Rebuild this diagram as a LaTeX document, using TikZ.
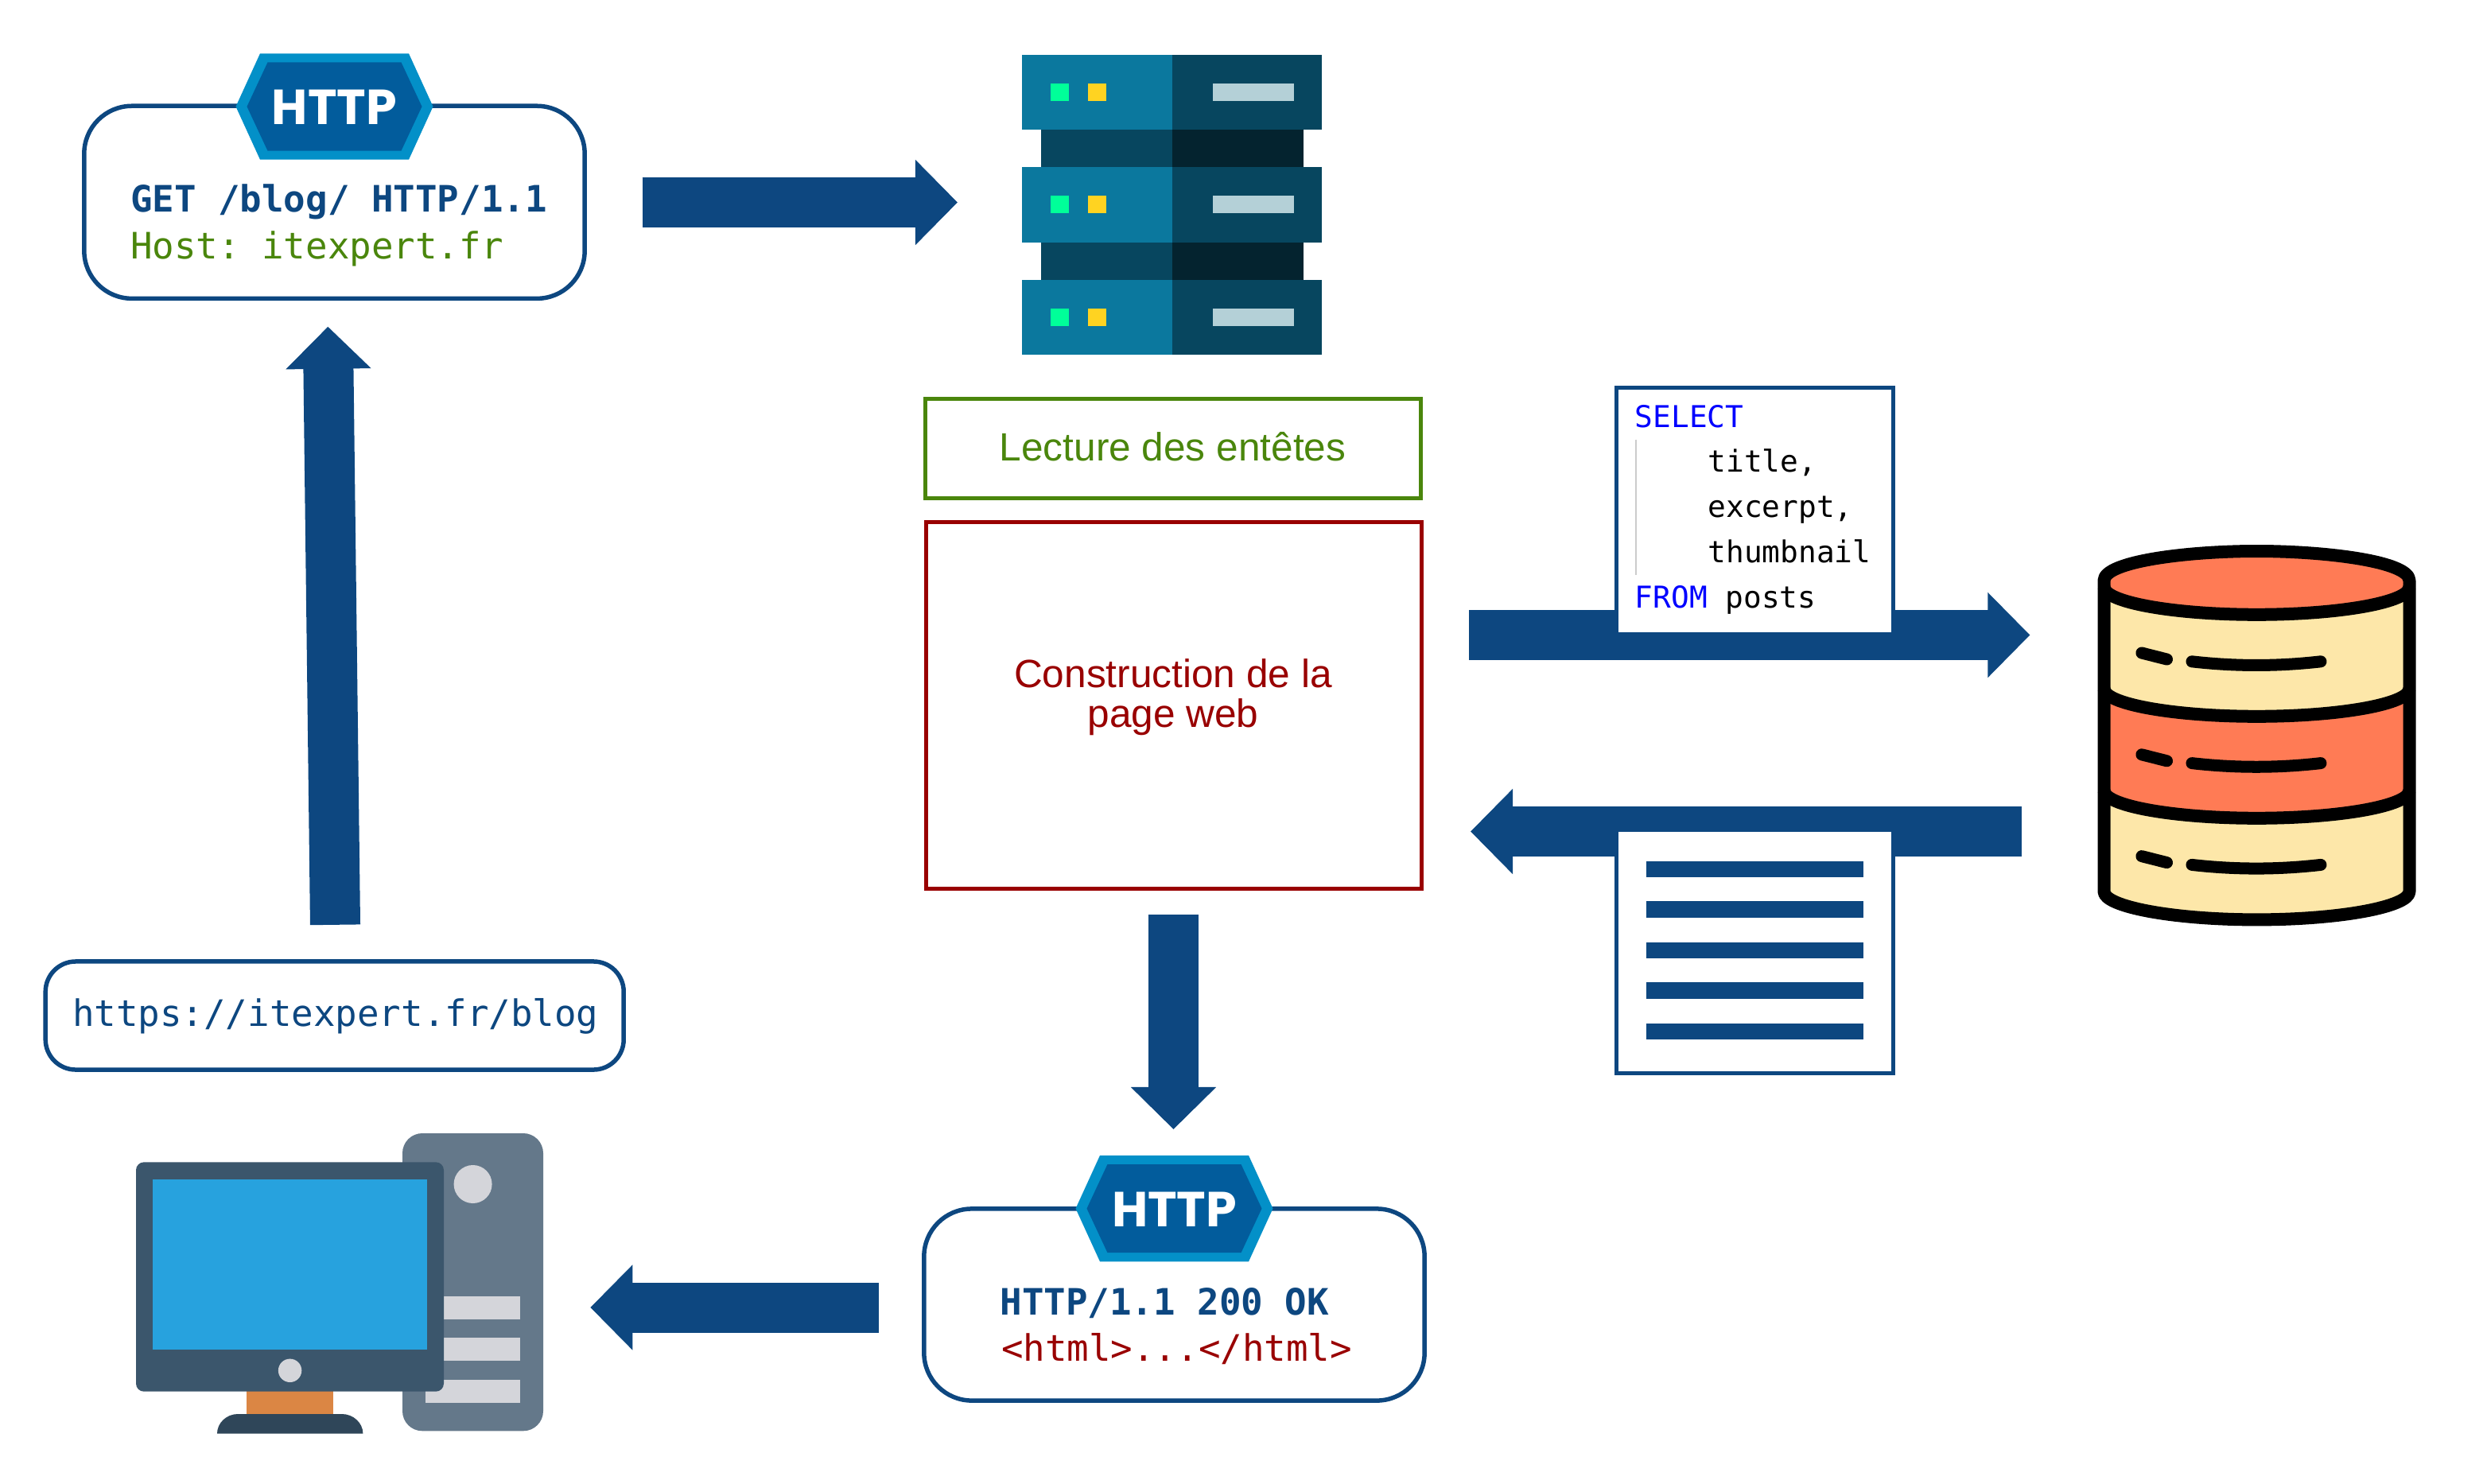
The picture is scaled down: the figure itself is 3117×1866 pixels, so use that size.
\documentclass[tikz,border=0pt]{standalone}
\usepackage{fontspec}
\setmainfont{Liberation Sans}
\setmonofont{DejaVu Sans Mono}
\newfontfamily\badgefont{Poppins}
\usetikzlibrary{arrows.meta}
\definecolor{flowblue}{HTML}{0D4780}
\definecolor{hexouter}{HTML}{0390C8}
\definecolor{hexinner}{HTML}{025C9C}
\definecolor{okgreen}{HTML}{4A860C}
\definecolor{darkred}{HTML}{990000}
\definecolor{srvlight}{HTML}{0B789E}
\definecolor{srvdark}{HTML}{07465F}
\definecolor{srvblack}{HTML}{04232F}
\definecolor{srvgreen}{HTML}{00FF99}
\definecolor{srvyellow}{HTML}{FFD321}
\definecolor{srvbar}{HTML}{B4D0D7}
\definecolor{dborange}{HTML}{FF7B55}
\definecolor{dbcream}{HTML}{FDE7A9}
\definecolor{pctower}{HTML}{64788A}
\definecolor{pcgrey}{HTML}{D4D5DA}
\definecolor{pcmonitor}{HTML}{3B566C}
\definecolor{pcscreen}{HTML}{27A2DE}
\definecolor{pcstand}{HTML}{DB8644}
\definecolor{pcbase}{HTML}{2F4659}
\tikzset{
  flow/.style={draw=flowblue,line width=.63cm,-{Triangle[length=.53cm,width=1.04cm]}},
  roundbox/.style={draw=flowblue,fill=white,line width=.055cm,rounded corners=.6cm,inner sep=0,outer sep=0},
  flatbox/.style={fill=white,line width=.05cm,inner sep=0,outer sep=0},
  codeline/.style={anchor=base west,inner sep=0,outer sep=0,font=\ttfamily\fontsize{13.02}{14}\selectfont},
  sqlline/.style={anchor=base west,inner sep=0,outer sep=0,font=\ttfamily\fontsize{10.75}{12}\selectfont},
  sansline/.style={anchor=base,inner sep=0,outer sep=0,font=\fontsize{14.1}{15}\selectfont},
  docline/.style={fill=flowblue},
  dbline/.style={draw=black,line width=.16cm,line join=round},
  dbdash/.style={draw=black,line width=.15cm,line cap=round},
  pics/httpbadge/.style={code={
    \fill[hexouter] (-124,0)--(-93.5,-66.7)--(93.5,-66.7)--(124,0)--(93.5,66.7)--(-93.5,66.7)--cycle;
    \fill[hexinner] (-110,0)--(-84,-55.6)--(84,-55.6)--(110,0)--(84,55.6)--(-84,55.6)--cycle;
    \node[text=white,inner sep=0,font=\badgefont\bfseries\fontsize{17.6}{19}\selectfont] (-label) at (0,1) {HTTP};
  }}
}
\begin{document}
\begin{tikzpicture}[x=.01cm,y=-.01cm]
\useasboundingbox (0,0) rectangle (3117,1866);
\fill[white] (0,0) rectangle (3117,1866);

% free ends of the arrows
\coordinate (a1s) at (807.5,254.5);   \coordinate (a1e) at (1204,254.5);
\coordinate (a2s) at (1847,798.5);  \coordinate (a2e) at (2552.4,798.5);
\coordinate (a3s) at (2542,1045.5); \coordinate (a3e) at (1849,1045.5);
\coordinate (a4s) at (1475.5,1150); \coordinate (a4e) at (1475.5,1420);
\coordinate (a5s) at (1104.7,1644); \coordinate (a5e) at (742.3,1644);
\coordinate (a6s) at (421.5,1162.8);\coordinate (a6e) at (412.3,410.7);
\draw[flow] (a1s) -- (a1e);
\draw[flow] (a2s) -- (a2e);
\draw[flow] (a3s) -- (a3e);
\draw[flow] (a4s) -- (a4e);
\draw[flow] (a5s) -- (a5e);
\draw[flow] (a6s) -- (a6e);

% request box
\node[roundbox,minimum width=6.29cm,minimum height=2.42cm] (request) at (420.5,254.3) {};
\pic (reqhttp) at (420.5,134) {httpbadge};
\node[codeline,text=flowblue,font=\ttfamily\bfseries\fontsize{13.02}{14}\selectfont] (reqline) at (164,266.7) {GET /blog/ HTTP/1.1};
\node[codeline,text=okgreen] (hostline) at (164,325) {Host: itexpert.fr};

% response box
\node[roundbox,minimum width=6.29cm,minimum height=2.41cm] (response) at (1476.5,1640.5) {};
\pic (reshttp) at (1476.5,1519.6) {httpbadge};
\node[codeline,text=flowblue,font=\ttfamily\bfseries\fontsize{13.02}{14}\selectfont] (statusline) at (1257.5,1653) {HTTP/1.1 200 OK};
\node[codeline,text=darkred] (htmlline) at (1259,1711) {<html>...</html>};

% url box
\node[roundbox,rounded corners=.38cm,minimum width=7.266cm,minimum height=1.36cm] (url) at (420.7,1277) {};
\node[codeline,text=flowblue] (urltext) at (91,1290) {https://itexpert.fr/blog};

% centre boxes
\node[flatbox,draw=okgreen,minimum width=6.22cm,minimum height=1.254cm] (headers) at (1475,564) {};
\node[sansline,text=okgreen] (headerstext) at (1474.5,579) {Lecture des entêtes};
\node[flatbox,draw=darkred,minimum width=6.22cm,minimum height=4.6cm] (build) at (1476,887) {};
\node[sansline,text=darkred] (buildtext1) at (1475,864) {Construction de la};
\node[sansline,text=darkred] (buildtext2) at (1475,914) {page web};

% SQL box
\node[flatbox,draw=flowblue,minimum width=3.475cm,minimum height=3.09cm] (sql) at (2206.7,642.5) {};
\draw[draw=black!20,line width=.02cm] (2056.5,552.6) -- (2056.5,722.5);
\node[sqlline,text=blue] (sql1) at (2055.8,537) {SELECT};
\node[sqlline] (sql2) at (2147.5,593) {title,};
\node[sqlline] (sql3) at (2147.5,650.4) {excerpt,};
\node[sqlline] (sql4) at (2147.5,707) {thumbnail};
\node[sqlline] (sql5) at (2055.8,764.3) {\textcolor{blue}{FROM} posts};

% document box
\node[flatbox,draw=flowblue,minimum width=3.479cm,minimum height=3.06cm] (doc) at (2206.5,1196.5) {};
\foreach \ya/\yb in {1082.7/1103.3,1133.3/1154,1184.7/1205.3,1235.3/1256,1286.7/1307.3}
  \fill[docline] (2070,\ya) rectangle (2342.8,\yb);

% server
\foreach \yt in {69,210.3,351.7}{
  \fill[srvlight] (1285.3,\yt) rectangle (1474,\yt+94.3);
  \fill[srvdark]  (1474,\yt) rectangle (1662.3,\yt+94.3);
  \fill[srvgreen] (1320.7,\yt+36) rectangle (1344,\yt+58);
  \fill[srvyellow] (1367.7,\yt+36) rectangle (1391,\yt+58);
  \fill[srvbar] (1525.3,\yt+36) rectangle (1627,\yt+58);
}
\foreach \yt in {163.3,304.7}{
  \fill[srvdark]  (1309,\yt) rectangle (1474,\yt+47);
  \fill[srvblack] (1474,\yt) rectangle (1639,\yt+47);
}

% database
\fill[dbcream] (2645.5,730) .. controls (2645.5,706) and (2750,693) .. (2837.5,693)
  .. controls (2925,693) and (3029.5,706) .. (3029.5,730) -- (3029.5,1121)
  .. controls (3029.5,1140) and (2943,1156.4) .. (2837.5,1156.4)
  .. controls (2732,1156.4) and (2645.5,1140) .. (2645.5,1121) -- cycle;
\fill[dborange] (2645.5,866) .. controls (2645.5,885) and (2732,900.7) .. (2837.5,900.7)
  .. controls (2943,900.7) and (3029.5,885) .. (3029.5,866) -- (3029.5,994)
  .. controls (3029.5,1013) and (2943,1028.5) .. (2837.5,1028.5)
  .. controls (2732,1028.5) and (2645.5,1013) .. (2645.5,994) -- cycle;
\fill[dborange] (2645.5,730) .. controls (2645.5,706) and (2750,693) .. (2837.5,693)
  .. controls (2925,693) and (3029.5,706) .. (3029.5,730) -- (3029.5,738)
  .. controls (3029.5,757) and (2943,772.8) .. (2837.5,772.8)
  .. controls (2732,772.8) and (2645.5,757) .. (2645.5,738) -- cycle;
\draw[dbline] (2645.5,730) .. controls (2645.5,706) and (2750,693) .. (2837.5,693)
  .. controls (2925,693) and (3029.5,706) .. (3029.5,730) -- (3029.5,1121)
  .. controls (3029.5,1140) and (2943,1156.4) .. (2837.5,1156.4)
  .. controls (2732,1156.4) and (2645.5,1140) .. (2645.5,1121) -- cycle;
\foreach \yy in {738,866,994}{
  \draw[dbline] (2645.5,\yy) .. controls (2645.5,\yy+19) and (2732,\yy+34.8) .. (2837.5,\yy+34.8)
    .. controls (2943,\yy+34.8) and (3029.5,\yy+19) .. (3029.5,\yy);
}
\foreach \dy in {0,127.8,255.6}{
  \draw[dbdash] (2692.9,821+\dy) -- (2724.5,829+\dy);
  \draw[dbdash] (2756,831.8+\dy) .. controls (2810,838+\dy) and (2864,838+\dy) .. (2918,831.8+\dy);
}

% computer
\fill[pctower,rounded corners=.25cm] (506,1425) rectangle (683,1799.3);
\fill[pcgrey] (594.6,1489) circle[radius=.24cm];
\foreach \ya/\yb in {1629.7/1659,1682/1711.3,1735/1764.3}
  \fill[pcgrey] (534.5,\ya) rectangle (654.3,\yb);
\fill[pcstand] (310,1740) rectangle (419,1780);
\fill[pcbase] (273,1802.7) .. controls (273,1789) and (285,1778) .. (299,1778) -- (430,1778)
  .. controls (444,1778) and (456.4,1789) .. (456.4,1802.7) -- cycle;
\fill[pcmonitor,rounded corners=.1cm] (171,1461.3) rectangle (558,1749.7);
\fill[pcscreen] (192.4,1482.7) rectangle (537,1696.7);
\fill[pcgrey] (364.6,1723.3) circle[radius=.147cm];
\end{tikzpicture}
\end{document}
